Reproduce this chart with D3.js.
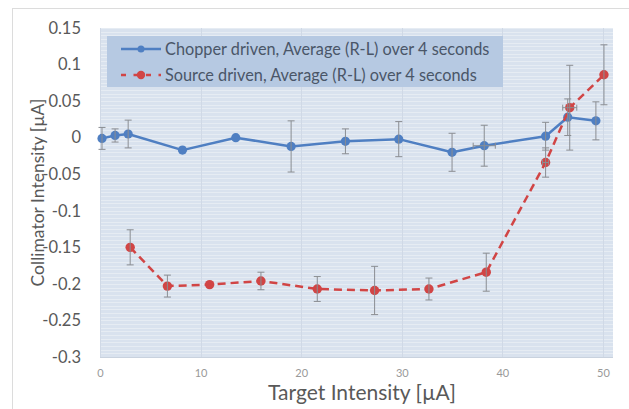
<!DOCTYPE html>
<html>
<head>
<meta charset="utf-8">
<script src="https://cdn.jsdelivr.net/npm/d3@7"></script>
<style>
  html, body { margin: 0; padding: 0; background: #fff; }
  svg { display: block; }
</style>
</head>
<body>
<svg id="chart" width="629" height="409"></svg>
<script>
// ---- data ----
const chopperX   = [0.2, 1.5, 2.8, 8.2, 13.5, 19.0, 24.4, 29.7, 35.0, 38.2, 44.3, 46.5, 49.3];
const chopperY   = [-0.001, 0.003, 0.005, -0.017, 0.000, -0.012, -0.005, -0.002, -0.020, -0.011, 0.002, 0.028, 0.023];
const chopperErr = [0.015, 0.009, 0.019, 0.004, 0.003, 0.035, 0.017, 0.024, 0.026, 0.028, 0.019, 0.025, 0.026];
const chopperXErr= [0, 0, 0, 0, 0, 0, 0, 0, 0, 1.1, 0, 0, 0];

const sourceX    = [3.0, 6.7, 10.9, 16.0, 21.6, 27.3, 32.7, 38.4, 44.3, 46.7, 50.1];
const sourceY    = [-0.150, -0.203, -0.201, -0.196, -0.207, -0.209, -0.207, -0.184, -0.034, 0.041, 0.086];
const sourceErr  = [0.024, 0.015, 0.003, 0.012, 0.017, 0.033, 0.015, 0.026, 0.020, 0.058, 0.041];
const sourceXErr = [0, 0, 0, 0, 0, 0, 0, 0, 0.3, 0.7, 0];

const yTicks = [0.15, 0.1, 0.05, 0, -0.05, -0.1, -0.15, -0.2, -0.25, -0.3];
const xTicks = [0, 10, 20, 30, 40, 50];
const seriesNames = ["Chopper driven, Average (R-L) over 4 seconds", "Source driven, Average (R-L) over 4 seconds"];
const xTitle = "Target Intensity [\u00B5A]";
const yTitle = "Collimator Intensity [\u00B5A]";

// ---- layout ----
const svg = d3.select("#chart");
const plot = { left: 100, right: 613, top: 28, bottom: 357 };
const x = d3.scaleLinear().domain([0, 51]).range([plot.left, plot.right]);
const y = d3.scaleLinear().domain([-0.3, 0.15]).range([plot.bottom, plot.top]);
const font = "Lato, 'Open Sans', sans-serif";
const blue = "#4f7fc2", red = "#d14545", errC = "#8a8d92";

// chart border
svg.append("rect").attr("x", 12.5).attr("y", 8.5).attr("width", 640).attr("height", 420)
  .attr("fill", "#fff").attr("stroke", "#dcdcdc");

// plot background
svg.append("rect").attr("x", plot.left).attr("y", plot.top)
  .attr("width", plot.right - plot.left).attr("height", plot.bottom - plot.top)
  .attr("fill", "#d9e2ee");

// minor horizontal gridlines
const minorY = d3.range(-0.3, 0.1501, 0.005);
svg.append("g").selectAll("line").data(minorY).join("line")
  .attr("x1", plot.left).attr("x2", plot.right)
  .attr("y1", d => Math.round(y(d)) + 0.5).attr("y2", d => Math.round(y(d)) + 0.5)
  .attr("stroke", "#e9eef5").attr("stroke-width", 1).attr("opacity", 0.85);

// vertical gridlines
svg.append("g").selectAll("line").data(xTicks).join("line")
  .attr("x1", d => Math.round(x(d)) + 0.5).attr("x2", d => Math.round(x(d)) + 0.5)
  .attr("y1", plot.top).attr("y2", plot.bottom)
  .attr("stroke", "#d0d9e6").attr("stroke-width", 1);

// bottom axis line
svg.append("line").attr("x1", plot.left).attr("x2", plot.right)
  .attr("y1", plot.bottom + 0.5).attr("y2", plot.bottom + 0.5).attr("stroke", "#c9d2de");

// y axis
const yAxis = d3.axisLeft(y).tickValues(yTicks).tickSize(0).tickPadding(0)
  .tickFormat(d => String(+d.toFixed(2)));
const yg = svg.append("g").attr("transform", `translate(${plot.left - 19},0)`).call(yAxis);
yg.select(".domain").remove();
yg.selectAll("text").attr("font-family", font).attr("font-size", 16.5).attr("fill", "#595959");

// x axis
const xAxis = d3.axisBottom(x).tickValues(xTicks).tickSize(0).tickPadding(0);
const xg = svg.append("g").attr("transform", `translate(0,${plot.bottom + 12})`).call(xAxis);
xg.select(".domain").remove();
xg.selectAll("text").attr("font-family", font).attr("font-size", 11).attr("fill", "#999");

// axis titles
svg.append("text").attr("x", 362).attr("y", 400).attr("text-anchor", "middle")
  .attr("font-family", font).attr("font-size", 21).attr("fill", "#595959").text(xTitle);
svg.append("text").attr("transform", `translate(44,${(plot.top + plot.bottom) / 2}) rotate(-90)`)
  .attr("text-anchor", "middle").attr("font-family", font).attr("font-size", 17.5)
  .attr("fill", "#595959").text(yTitle);

// helpers
function drawErr(xs, ys, es, xes) {
  const g = svg.append("g").attr("stroke", errC).attr("stroke-width", 1).attr("fill", "none");
  xs.forEach((xv, i) => {
    const cx = x(xv), y1 = y(ys[i] + es[i]), y2 = y(ys[i] - es[i]);
    if (es[i] > 0.004) {
      g.append("line").attr("x1", cx).attr("x2", cx).attr("y1", y1).attr("y2", y2);
      g.append("line").attr("x1", cx - 3.5).attr("x2", cx + 3.5).attr("y1", y1).attr("y2", y1);
      g.append("line").attr("x1", cx - 3.5).attr("x2", cx + 3.5).attr("y1", y2).attr("y2", y2);
    }
    if (xes[i] > 0) {
      const cy = y(ys[i]), x1 = x(xv - xes[i]), x2 = x(xv + xes[i]);
      g.append("line").attr("x1", x1).attr("x2", x2).attr("y1", cy).attr("y2", cy);
      g.append("line").attr("x1", x1).attr("x2", x1).attr("y1", cy - 3).attr("y2", cy + 3);
      g.append("line").attr("x1", x2).attr("x2", x2).attr("y1", cy - 3).attr("y2", cy + 3);
    }
  });
}

const line = d3.line().x(d => x(d[0])).y(d => y(d[1]));
const chopper = chopperX.map((v, i) => [v, chopperY[i]]);
const source = sourceX.map((v, i) => [v, sourceY[i]]);

// chopper series
svg.append("path").datum(chopper).attr("d", line).attr("fill", "none")
  .attr("stroke", blue).attr("stroke-width", 2.5).attr("stroke-linejoin", "round");
svg.append("g").selectAll("circle").data(chopper).join("circle")
  .attr("cx", d => x(d[0])).attr("cy", d => y(d[1])).attr("r", 4.6).attr("fill", blue);

// source series
svg.append("path").datum(source).attr("d", line).attr("fill", "none")
  .attr("stroke", red).attr("stroke-width", 2.5).attr("stroke-dasharray", "8,5");
svg.append("g").selectAll("circle").data(source).join("circle")
  .attr("cx", d => x(d[0])).attr("cy", d => y(d[1])).attr("r", 4.7).attr("fill", red);

// error bars on top (as Excel draws them)
drawErr(chopperX, chopperY, chopperErr, chopperXErr);
drawErr(sourceX, sourceY, sourceErr, sourceXErr);

// legend
const lg = svg.append("g");
lg.append("rect").attr("x", 107).attr("y", 36).attr("width", 396).attr("height", 51)
  .attr("fill", "#b6c9e2");
const rows = [
  { name: seriesNames[0], color: blue, dash: null, r: 3.5, y: 49 },
  { name: seriesNames[1], color: red, dash: true, r: 4.2, y: 75 }
];
rows.forEach(r => {
  const l = lg.append("line").attr("x1", 121).attr("x2", 161).attr("y1", r.y).attr("y2", r.y)
    .attr("stroke", r.color).attr("stroke-width", 2.5);
  if (r.dash) l.attr("stroke-dasharray", "5,7.5");
  lg.append("circle").attr("cx", 141).attr("cy", r.y).attr("r", r.r).attr("fill", r.color);
  lg.append("text").attr("x", 165).attr("y", r.y + 5.5).attr("font-family", font)
    .attr("font-size", 16.3).attr("fill", "#4a5668").text(r.name);
});
</script>
</body>
</html>
